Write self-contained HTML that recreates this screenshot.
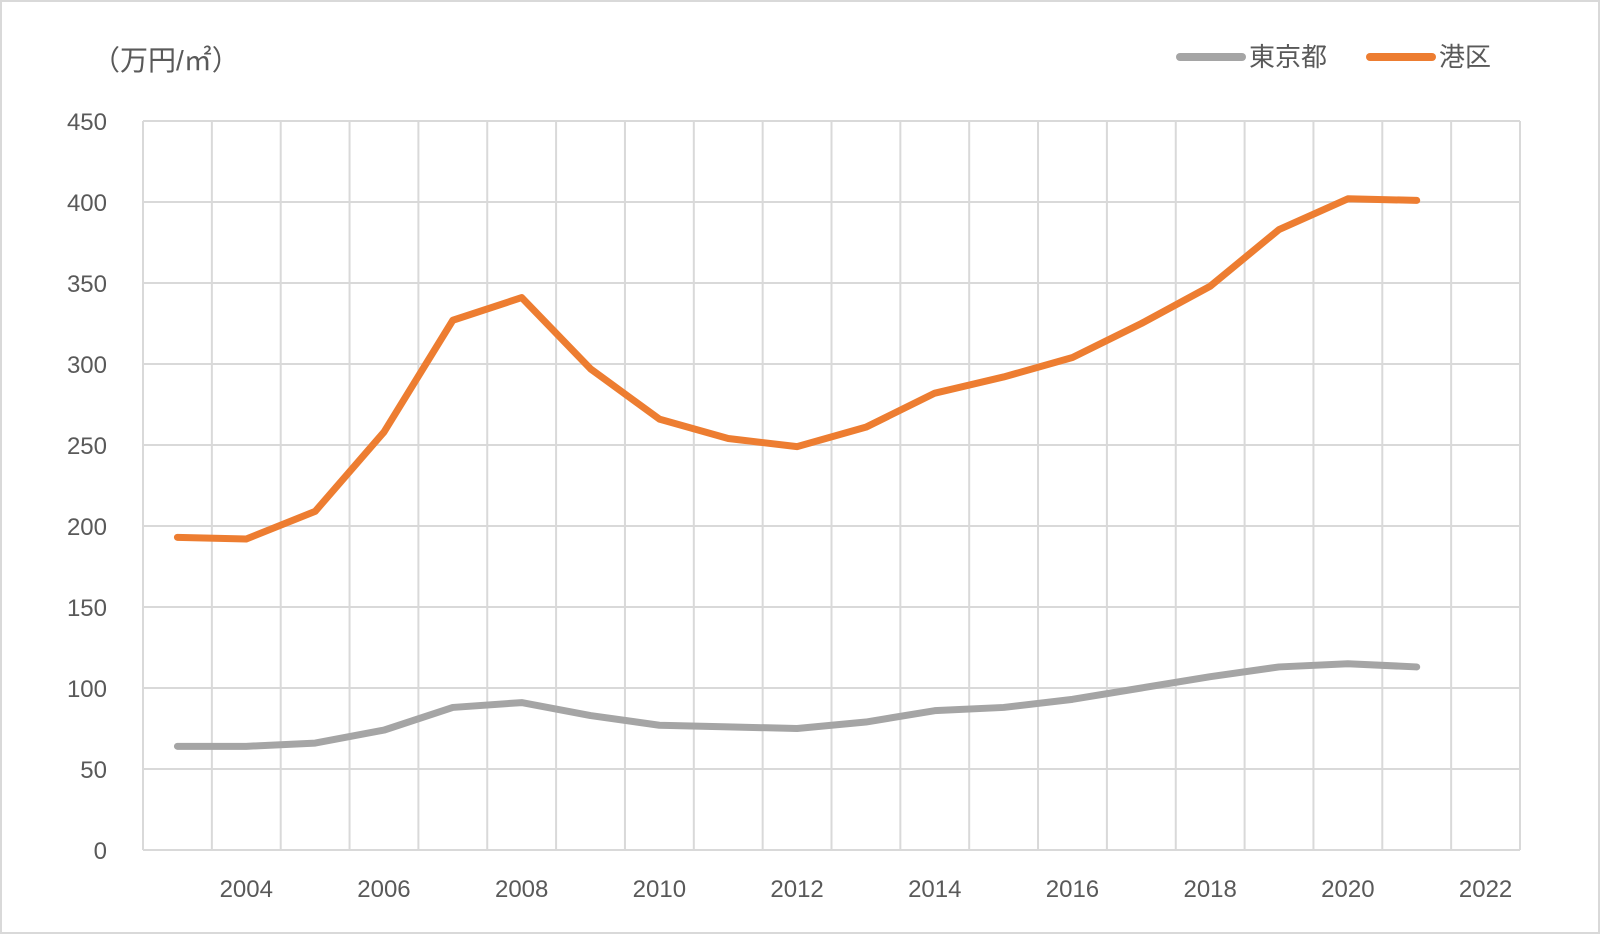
<!DOCTYPE html>
<html><head><meta charset="utf-8"><style>
html,body{margin:0;padding:0;background:#fff;}
svg{display:block;font-family:"Liberation Sans","Noto Sans CJK JP",sans-serif;}
</style></head><body>
<svg id="chart" width="1600" height="934" viewBox="0 0 1600 934">
<rect x="1" y="1" width="1598" height="932" fill="#fff" stroke="#d9d9d9" stroke-width="2"/>
<g id="grid"></g>
<g id="axes"></g>
<g id="series"></g>
<text x="92" y="70" font-size="28" fill="#595959">（万円/㎡）</text>
<g>
<g>
<line x1="1180" y1="57" x2="1242" y2="57" stroke="#a5a5a5" stroke-width="8" stroke-linecap="round"/>
<text x="1249" y="66" font-size="26" fill="#595959">東京都</text></g>
<g>
<line x1="1370" y1="57" x2="1432" y2="57" stroke="#ed7d31" stroke-width="8" stroke-linecap="round"/>
<text x="1439" y="66" font-size="26" fill="#595959">港区</text></g>
</g>
</svg>
<script>
const categories=[2003,2004,2005,2006,2007,2008,2009,2010,2011,2012,2013,2014,2015,2016,2017,2018,2019,2020,2021,2022];
const tokyoValues=[64,64,66,74,88,91,83,77,76,75,79,86,88,93,100,107,113,115,113];
const minatoValues=[193,192,209,258,327,341,297,266,254,249,261,282,292,304,325,348,383,402,401];
const yTicks=[0,50,100,150,200,250,300,350,400,450];
const xTickLabels=["2004","2006","2008","2010","2012","2014","2016","2018","2020","2022"];
const L=143,R=1520,T=121,B=850,yMax=450;
const ns="http://www.w3.org/2000/svg";
const step=(R-L)/categories.length;
function xPos(i){return L+step*(i+0.5);}
function yPos(v){return B-(v/yMax)*(B-T);}
function mk(tag,attrs,parent){const e=document.createElementNS(ns,tag);for(const k in attrs)e.setAttribute(k,attrs[k]);parent.appendChild(e);return e;}
const grid=document.getElementById('grid'),axes=document.getElementById('axes'),series=document.getElementById('series');
yTicks.forEach(v=>{
 const l=mk('line',{x1:L,x2:R,y1:yPos(v),y2:yPos(v),stroke:'#d9d9d9','stroke-width':2},grid);
 
 
 const t=mk('text',{x:107,y:yPos(v)+9,'text-anchor':'end','font-size':24,fill:'#595959'},axes);
 t.textContent=v;
 
 
});
for(let i=0;i<=categories.length;i++){
 const x=L+step*i;
 const l=mk('line',{x1:x,x2:x,y1:T,y2:B,stroke:'#d9d9d9','stroke-width':2},grid);
 
 
}
xTickLabels.forEach(lab=>{
 const i=categories.indexOf(+lab);
 const t=mk('text',{x:xPos(i),y:897,'text-anchor':'middle','font-size':24,fill:'#595959'},axes);
 t.textContent=lab;
 
 
});
function drawLine(vals,color,name){
 const pts=vals.map((v,i)=>xPos(i)+','+yPos(v)).join(' ');
 const p=mk('polyline',{points:pts,fill:'none',stroke:color,'stroke-width':7,'stroke-linejoin':'round','stroke-linecap':'round'},series);
 
 
}
drawLine(tokyoValues,'#a5a5a5','tokyo-line');
drawLine(minatoValues,'#ed7d31','minato-line');
</script>
</body></html>
